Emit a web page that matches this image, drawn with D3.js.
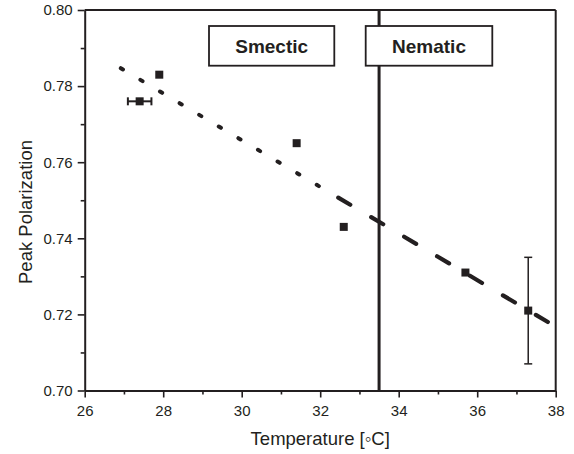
<html>
<head>
<style>
  body { margin: 0; background: #fff; }
  text { font-family: "Liberation Sans", Arial, sans-serif; fill: #231f20; }
</style>
</head>
<body>
<svg id="chart" width="574" height="454"></svg>
<script src="https://cdn.jsdelivr.net/npm/d3@7"></script>
<script>
// measured points
let temps = [27.4, 27.9, 31.4, 32.6, 35.7, 37.3]
let peaks = [0.776, 0.783, 0.765, 0.743, 0.731, 0.721]
let xErrs = [0.3, 0, 0, 0, 0, 0]
let yErrs = [0, 0, 0, 0, 0, 0.014]

// linear fit (smectic part dotted, nematic part dashed)
let fitSmectic = [[26.92, 0.7847], [32.1, 0.7529]]
let fitNematic = [[32.46, 0.7507], [37.8, 0.7180]]

let transition = 33.5
let phaseLabels = ["Smectic", "Nematic"]
let xTicks = [26, 28, 30, 32, 34, 36, 38]
let yTicks = [0.70, 0.72, 0.74, 0.76, 0.78, 0.80]

let data = temps.map((t, i) => ({ t: t, p: peaks[i], ex: xErrs[i], ey: yErrs[i] }))

let svg = d3.select("#chart")
let ink = "#231f20"
let mLeft = 84.7, mRight = 555.7, mTop = 10, mBottom = 390.5

let x = d3.scaleLinear().domain([26, 38]).range([mLeft, mRight])
let y = d3.scaleLinear().domain([0.70, 0.80]).range([mBottom, mTop])

// frame top + right
svg.append("line").attr("x1", mLeft).attr("x2", mRight).attr("y1", mTop).attr("y2", mTop)
    .attr("stroke", ink).attr("stroke-width", 2)
svg.append("line").attr("x1", mRight).attr("x2", mRight).attr("y1", mTop).attr("y2", mBottom)
    .attr("stroke", ink).attr("stroke-width", 2)

// transition line
svg.append("line")
    .attr("x1", x(transition)).attr("x2", x(transition))
    .attr("y1", mTop).attr("y2", mBottom)
    .attr("stroke", ink).attr("stroke-width", 3)

// axes
let xAxis = svg.append("g").attr("transform", `translate(0,${mBottom})`)
    .call(d3.axisBottom(x).tickValues(d3.range(26, 38.5, 1)).tickSize(7).tickSizeOuter(0)
        .tickFormat(d => xTicks.includes(d) ? d : ""))
let yAxis = svg.append("g").attr("transform", `translate(${mLeft},0)`)
    .call(d3.axisLeft(y).tickValues(d3.range(0, 11).map(i => 0.70 + i * 0.01)).tickSize(7).tickSizeOuter(0)
        .tickFormat(d => yTicks.some(v => Math.abs(v - d) < 1e-6) ? d3.format(".2f")(d) : ""))

;[xAxis, yAxis].forEach(g => {
    g.attr("font-size", null).attr("font-family", null)
    g.select(".domain").attr("stroke", ink).attr("stroke-width", 2)
    g.selectAll(".tick line").attr("stroke", ink).attr("stroke-width", 1.6)
    g.selectAll(".tick text").style("font-size", "15px").style("fill", ink)
})
xAxis.selectAll(".tick").filter(d => !xTicks.includes(d)).select("line").attr("y2", 4)
yAxis.selectAll(".tick").filter(d => !yTicks.some(v => Math.abs(v - d) < 1e-6)).select("line").attr("x2", -4)
xAxis.selectAll(".tick text").attr("y", 25).attr("dy", 0)
yAxis.selectAll(".tick text").attr("x", -12)

// fit line
let line = d3.line().x(d => x(d[0])).y(d => y(d[1]))
svg.append("path").attr("d", line(fitSmectic))
    .attr("fill", "none").attr("stroke", ink).attr("stroke-width", 4)
    .attr("stroke-linecap", "round").attr("stroke-dasharray", "2.5,20.3")
svg.append("path").attr("d", line(fitNematic))
    .attr("fill", "none").attr("stroke", ink).attr("stroke-width", 4.2)
    .attr("stroke-linecap", "round").attr("stroke-dasharray", "14,24.3")

// error bars
let eb = svg.append("g").attr("stroke", ink).attr("stroke-width", 1.5)
data.filter(d => d.ey > 0).forEach(d => {
    eb.append("line").attr("x1", x(d.t)).attr("x2", x(d.t)).attr("y1", y(d.p - d.ey)).attr("y2", y(d.p + d.ey))
    ;[d.p - d.ey, d.p + d.ey].forEach(v => eb.append("line")
        .attr("x1", x(d.t) - 4).attr("x2", x(d.t) + 4).attr("y1", y(v)).attr("y2", y(v)))
})
data.filter(d => d.ex > 0).forEach(d => {
    eb.append("line").attr("x1", x(d.t - d.ex)).attr("x2", x(d.t + d.ex)).attr("y1", y(d.p)).attr("y2", y(d.p))
        .attr("stroke-width", 2)
    ;[d.t - d.ex, d.t + d.ex].forEach(v => eb.append("line").attr("stroke-width", 2)
        .attr("x1", x(v)).attr("x2", x(v)).attr("y1", y(d.p) - 4).attr("y2", y(d.p) + 4))
})

// squares
svg.selectAll(".pt").data(data).enter().append("rect")
    .attr("x", d => x(d.t) - 4).attr("y", d => y(d.p) - 4)
    .attr("width", 8).attr("height", 8).attr("fill", ink)

// phase boxes
let boxes = [{ label: phaseLabels[0], x0: 209, x1: 334.3 }, { label: phaseLabels[1], x0: 365.7, x1: 492.3 }]
boxes.forEach(b => {
    svg.append("rect").attr("x", b.x0).attr("y", 26).attr("width", b.x1 - b.x0).attr("height", 39.7)
        .attr("fill", "#fff").attr("stroke", ink).attr("stroke-width", 1.8)
    svg.append("text").attr("x", (b.x0 + b.x1) / 2).attr("y", 52.5)
        .attr("text-anchor", "middle").attr("font-size", 19).attr("font-weight", "bold").text(b.label)
})

// axis titles
svg.append("text").attr("x", (mLeft + mRight) / 2).attr("y", 445).attr("text-anchor", "middle")
    .attr("font-size", 18.5).text("Temperature [\u25E6C]")
svg.append("text").attr("transform", "translate(32,212) rotate(-90)").attr("text-anchor", "middle")
    .attr("font-size", 18.5).text("Peak Polarization")
</script>
</body>
</html>
